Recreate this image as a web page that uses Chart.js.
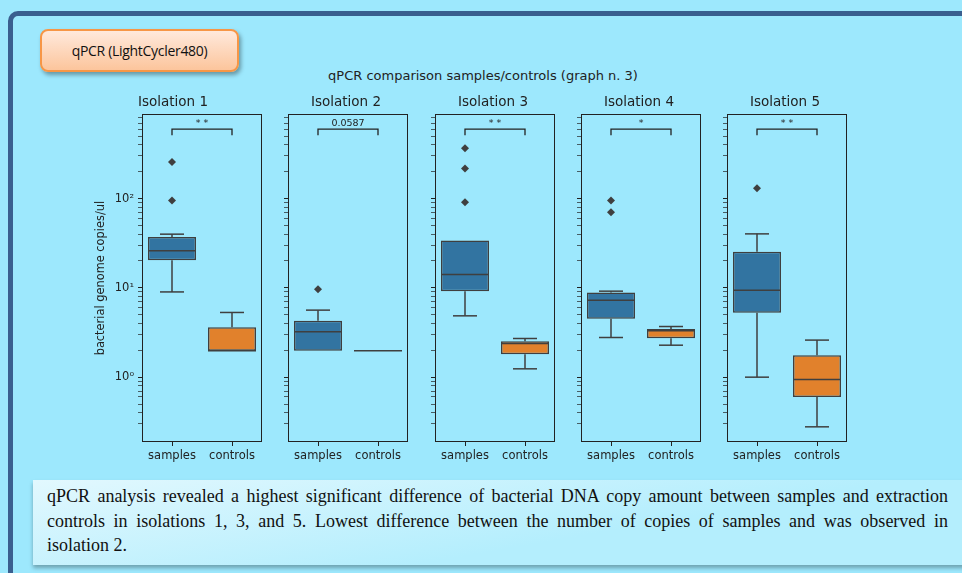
<!DOCTYPE html>
<html>
<head>
<meta charset="utf-8">
<script src="https://cdn.jsdelivr.net/npm/chart.js@4.4.1/dist/chart.umd.min.js"></script>
<style>
body{margin:0;width:962px;height:573px;overflow:hidden;background:#9de8fd;font-family:'DejaVu Sans',sans-serif;position:relative}
#frame{position:absolute;left:8px;top:11px;width:1000px;height:620px;border:5px solid #3a5f8f;border-radius:10px;box-sizing:border-box}
#tag{position:absolute;left:40px;top:29px;width:199px;height:43px;box-sizing:border-box;border:2px solid #f79646;border-radius:8px;background:linear-gradient(#ffe9dc,#fcc59c);box-shadow:2px 3px 4px rgba(0,0,0,.35);font:14px 'Open Sans',sans-serif;letter-spacing:-0.3px;color:#111;display:flex;align-items:center;justify-content:center}
#suptitle{position:absolute;left:0;width:966px;top:68px;text-align:center;font-size:13px;color:#222}
canvas.panel{position:absolute;top:88px}
#note{position:absolute;left:33px;top:480px;width:960px;height:85px;box-sizing:border-box;padding:4px 0 0 14px;background:linear-gradient(170deg,#e2f8fe,#b4eefd 60%);box-shadow:0 3px 4px rgba(0,0,0,.3)}
#note .ln{width:901px;font:18px 'Liberation Serif',serif;line-height:24.5px;color:#111}
#note .j{text-align:justify;text-align-last:justify}
</style>
</head>
<body>
<div id="frame"></div>
<div id="tag">qPCR (LightCycler480)</div>
<div id="suptitle">qPCR comparison samples/controls (graph n. 3)</div>
<div id="panels"></div>
<div id="note">
  <div class="ln j">qPCR analysis revealed a highest significant difference of bacterial DNA copy amount between samples and extraction</div>
  <div class="ln j">controls in isolations 1, 3, and 5. Lowest difference between the number of copies of samples and was observed in</div>
  <div class="ln">isolation 2.</div>
</div>
<script>
// data (copies/ul, log axis)
const categories = ['samples', 'controls'];
const isolations = ['Isolation 1', 'Isolation 2', 'Isolation 3', 'Isolation 4', 'Isolation 5'];
const sampleLow = [9.0, 1.97, 4.86, 2.78, 1.0];
const sampleQ1 = [20.4, 1.97, 9.18, 4.5, 5.25];
const sampleMedian = [26, 3.22, 14.1, 7.28, 9.42];
const sampleQ3 = [37.2, 4.27, 33.8, 8.87, 25.3];
const sampleHigh = [39.9, 5.63, 33.8, 9.18, 40.2];
const sampleOutliers = [[257, 95], [9.66], [366, 217, 91], [95, 70], [130.5]];
const controlLow = [1.97, 1.97, 1.24, 2.28, 0.278];
const controlQ1 = [1.97, 1.97, 1.81, 2.73, 0.60];
const controlMedian = [1.97, 1.97, 2.38, 3.3, 0.94];
const controlQ3 = [3.63, 1.97, 2.53, 3.47, 1.76];
const controlHigh = [5.3, 1.97, 2.71, 3.69, 2.6];
const pLabels = ['* *', '0.0587', '* *', '*', '* *'];
const bracketTop = 597, bracketFoot = 512;
const yMin = 0.188, yMax = 879;
const yMajorLabels = ['10\u2070', '10\u00b9', '10\u00b2'];

const boxColors = ['#3274a1', '#e1812c'];
const edge = '#3f3f3f', ink = '#222';
Chart.defaults.font.family = "'DejaVu Sans', sans-serif";
Chart.defaults.color = ink;

function makeChart(i) {
  const yw = i === 0 ? 60 : 6;
  const left = Math.round(142 + 146.3 * i);
  const c = document.createElement('canvas');
  c.className = 'panel';
  c.width = yw + 124; c.height = 384;
  c.style.left = (left - yw) + 'px';
  document.getElementById('panels').appendChild(c);

  const stats = [
    {lo: sampleLow[i], q1: sampleQ1[i], med: sampleMedian[i], q3: sampleQ3[i], hi: sampleHigh[i]},
    {lo: controlLow[i], q1: controlQ1[i], med: controlMedian[i], q3: controlQ3[i], hi: controlHigh[i]}
  ];

  const boxPlugin = {
    id: 'box' + i,
    afterDatasetsDraw(chart) {
      const {ctx, scales: {x, y}} = chart;
      const meta = chart.getDatasetMeta(0);
      const seg = (x1, y1, x2, y2) => { ctx.beginPath(); ctx.moveTo(x1, y1); ctx.lineTo(x2, y2); ctx.stroke(); };
      ctx.save();
      ctx.strokeStyle = edge; ctx.lineWidth = 1.5;
      stats.forEach((s, j) => {
        const cx = x.getPixelForValue(j);
        const half = meta.data[j].width / 2;
        if (s.hi > s.q3) {
          seg(cx, y.getPixelForValue(s.q3), cx, y.getPixelForValue(s.hi));
          seg(cx - half / 2, y.getPixelForValue(s.hi), cx + half / 2, y.getPixelForValue(s.hi));
        }
        if (s.lo < s.q1) {
          seg(cx, y.getPixelForValue(s.q1), cx, y.getPixelForValue(s.lo));
          seg(cx - half / 2, y.getPixelForValue(s.lo), cx + half / 2, y.getPixelForValue(s.lo));
        }
        seg(cx - half, y.getPixelForValue(s.med), cx + half, y.getPixelForValue(s.med));
      });
      // significance bracket
      const x0 = x.getPixelForValue(0), x1 = x.getPixelForValue(1);
      const pt = y.getPixelForValue(bracketTop), pf = y.getPixelForValue(bracketFoot);
      ctx.strokeStyle = ink; ctx.lineWidth = 1.3;
      ctx.beginPath(); ctx.moveTo(x0, pf); ctx.lineTo(x0, pt); ctx.lineTo(x1, pt); ctx.lineTo(x1, pf); ctx.stroke();
      ctx.fillStyle = ink; ctx.font = "9.5px 'DejaVu Sans'";
      ctx.textAlign = 'center'; ctx.textBaseline = 'bottom';
      ctx.fillText(pLabels[i], (x0 + x1) / 2, pt - 1);
      ctx.restore();
    },
    afterDraw(chart) {
      const {ctx, chartArea: a} = chart;
      ctx.save();
      ctx.strokeStyle = ink; ctx.lineWidth = 1;
      ctx.strokeRect(Math.round(a.left) + 0.5, Math.round(a.top) + 0.5, Math.round(a.right - a.left) - 1, Math.round(a.bottom - a.top) - 1);
      ctx.restore();
    }
  };

  new Chart(c, {
    type: 'bar',
    data: {
      labels: categories,
      datasets: [
        {
          data: stats.map(s => [s.q1, s.q3]),
          backgroundColor: boxColors,
          borderColor: edge, borderWidth: 1.5, borderSkipped: false,
          categoryPercentage: 1, barPercentage: 0.8, order: 2
        },
        {
          type: 'line', showLine: false, order: 1,
          data: sampleOutliers[i].map(v => ({x: categories[0], y: v})),
          pointStyle: 'rectRot', pointRadius: 4,
          pointBackgroundColor: edge, pointBorderColor: edge, pointBorderWidth: 0
        }
      ]
    },
    options: {
      responsive: false, animation: false, devicePixelRatio: 1,
      layout: {padding: {left: 0, right: 2, top: 0, bottom: 0}},
      plugins: {
        legend: {display: false}, tooltip: {enabled: false},
        title: {display: true, text: isolations[i], color: ink, font: {size: 13.5, weight: 'normal'}, padding: {top: 6, bottom: 4}}
      },
      scales: {
        x: {
          offset: true,
          border: {display: false},
          grid: {drawOnChartArea: false, offset: false, tickLength: 4, tickColor: ink},
          ticks: {color: ink, font: {size: 11.5}, padding: 3, maxRotation: 0},
          afterFit(s) { s.height = 30; }
        },
        y: {
          type: 'logarithmic', min: yMin, max: yMax,
          border: {display: false},
          grid: {drawOnChartArea: false, tickLength: 4, tickColor: ink,
                 tickWidth: ctx => (ctx.tick && ctx.tick.major ? 1 : 0.7)},
          ticks: {
            autoSkip: false, color: ink, font: {size: 11.5}, padding: 4,
            callback: v => {
              if (i !== 0) return '';
              const e = Math.log10(v);
              return Math.abs(e - Math.round(e)) < 1e-6 ? (yMajorLabels[Math.round(e)] || '') : '';
            }
          },
          title: {display: i === 0, text: 'bacterial genome copies/ul', color: ink, font: {size: 11.4}, padding: {top: 12, bottom: 0}},
          afterBuildTicks(s) {
            s.ticks = s.ticks.filter(t => {
              const m = t.value / Math.pow(10, Math.floor(Math.log10(t.value) + 1e-9));
              return Math.abs(m - Math.round(m)) < 1e-6;
            });
          },
          afterFit(s) { s.width = yw; }
        }
      }
    },
    plugins: [boxPlugin]
  });
}

isolations.forEach((_, i) => makeChart(i));
</script>
</body>
</html>
